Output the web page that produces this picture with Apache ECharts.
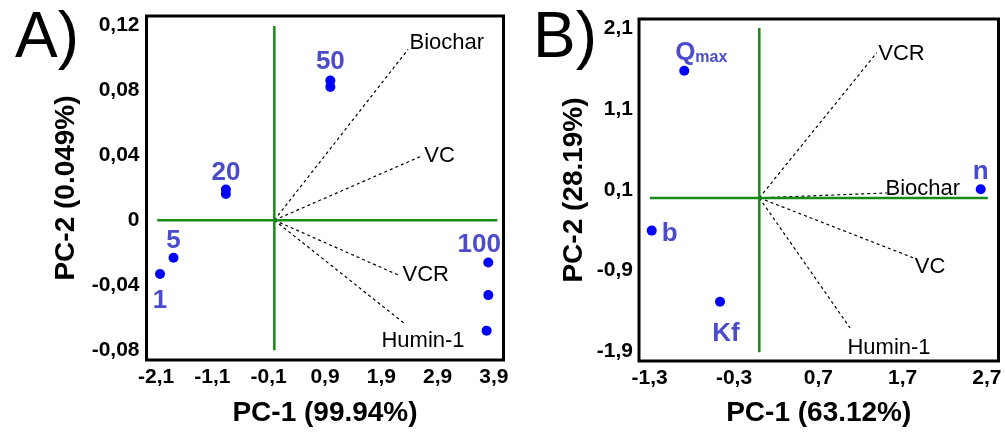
<!DOCTYPE html>
<html><head><meta charset="utf-8">
<script src="https://cdn.jsdelivr.net/npm/echarts@6/dist/echarts.min.js"></script>
<style>html,body{margin:0;padding:0;background:#fff}#c{width:1005px;height:432px}</style>
</head><body><div id="c"></div>
<script>
// ---------- Panel A data ----------
const ticksAX = [-2.1, -1.1, -0.1, 0.9, 1.9, 2.9, 3.9];
const ticksAY = [-0.08, -0.04, 0, 0.04, 0.08, 0.12];
const rangeAX = [-2.27, 4.07];
const rangeAY = [-0.0862, 0.1259];
const scoreAGroup = ['1', '5', '20', '20', '50', '50', '100', '100', '100'];
const scoreAX = [-2.03, -1.79, -0.86, -0.86, 0.995, 0.995, 3.80, 3.80, 3.77];
const scoreAY = [-0.0332, -0.0232, 0.0189, 0.0162, 0.0861, 0.0822, -0.0261, -0.0462, -0.0681];
const loadNamesA = ['Biochar', 'VC', 'VCR', 'Humin-1'];
const loadAX = [2.375, 2.618, 2.233, 2.321];
const loadAY = [0.1053, 0.0396, -0.0343, -0.064];
const crossAVert = [-0.0802, 0.1198];
const crossAHoriz = [-2.08, 3.96];

// ---------- Panel B data ----------
const ticksBX = [-1.3, -0.3, 0.7, 1.7, 2.7];
const ticksBY = [-1.9, -0.9, 0.1, 1.1, 2.1];
const rangeBX = [-1.427, 2.837];
const rangeBY = [-2.018, 2.213];
const scoreBNames = ['Qmax', 'n', 'b', 'Kf'];
const scoreBX = [-0.89, 2.626, -1.276, -0.466];
const scoreBY = [1.572, 0.106, -0.405, -1.285];
const loadNamesB = ['VCR', 'Biochar', 'VC', 'Humin-1'];
const loadBX = [1.393, 1.515, 1.827, 1.076];
const loadBY = [1.796, 0.061, -0.742, -1.609];
const crossBVert = [-1.909, 2.103];
const crossBHoriz = [-1.297, 2.711];

// ---------- styles ----------
const FONT = '"Liberation Sans", Arial, sans-serif';
const GREEN = '#178a17';
const DOT = '#0000ff';
const LBL = '#4b4bcb';

const fmt = v => (Math.abs(v) < 1e-9 ? '0' : String(v).replace('.', ','));

const groupLabelA = {
  '1':   {position: 'bottom', offset: [0, 4]},
  '5':   {position: 'top', offset: [0, 6]},
  '20':  {position: 'top', offset: [0, 6]},
  '50':  {position: 'top', offset: [0, 4]},
  '100': {position: 'top', offset: [-9, 5]}
};
const loadLabelA = {
  'Biochar': {position: 'right', distance: 1, offset: [0, -6]},
  'VC':      {position: 'right', distance: 2, offset: [0, 0]},
  'VCR':     {position: 'right', distance: 2, offset: [0, -1]},
  'Humin-1': {position: 'bottom', distance: 2, offset: [18, 3]}
};
const scoreLabelB = {
  'Qmax': {position: 'top', offset: [17, 5]},
  'n':    {position: 'top', offset: [0, 6]},
  'b':    {position: 'right', offset: [0, 3]},
  'Kf':   {position: 'bottom', offset: [6, 9]}
};
const loadLabelB = {
  'VCR':     {position: 'right', distance: 1, offset: [0, 1]},
  'Biochar': {position: 'right', distance: 0, offset: [-2, -4]},
  'VC':      {position: 'right', distance: 1, offset: [0, 9]},
  'Humin-1': {position: 'bottom', distance: 2, offset: [39, 6]}
};

function axisCommon(ticks, range) {
  return {
    type: 'value', min: range[0], max: range[1],
    axisLine: {show: false}, axisTick: {show: false}, splitLine: {show: false},
    axisLabel: {
      customValues: ticks, formatter: fmt, color: '#000',
      fontFamily: FONT, fontWeight: 'bold', fontSize: 21, margin: 7
    },
    nameLocation: 'middle',
    nameTextStyle: {fontFamily: FONT, fontWeight: 'bold', fontSize: 28, color: '#000'}
  };
}

function crossSeries(idx, vert, horiz) {
  const base = {
    type: 'line', xAxisIndex: idx, yAxisIndex: idx, symbol: 'none', z: 4,
    lineStyle: {color: GREEN, width: 2.5}, silent: true, animation: false
  };
  return [
    Object.assign({}, base, {data: [[0, vert[0]], [0, vert[1]]]}),
    Object.assign({}, base, {data: [[horiz[0], 0], [horiz[1], 0]]})
  ];
}

function loadingSeries(idx, names, xs, ys, labelMap) {
  const lines = names.map((nm, i) => ({
    type: 'line', xAxisIndex: idx, yAxisIndex: idx, z: 3,
    symbol: 'none', animation: false, silent: true,
    lineStyle: {color: '#000', width: 1.2, type: [3, 3]},
    data: [[0, 0], [xs[i], ys[i]]]
  }));
  const labels = {
    type: 'scatter', xAxisIndex: idx, yAxisIndex: idx, z: 3,
    symbol: 'circle', symbolSize: 1, silent: true, animation: false,
    itemStyle: {color: 'rgba(0,0,0,0)'},
    data: names.map((nm, i) => ({
      value: [xs[i], ys[i]],
      label: Object.assign({show: true, formatter: nm, color: '#000', opacity: 1,
        fontFamily: FONT, fontSize: 22}, labelMap[nm])
    }))
  };
  return lines.concat([labels]);
}

// Panel A scores: label on the top-most point of each group (bottom for '1')
const firstIdxA = {};
scoreAGroup.forEach((g, i) => { if (!(g in firstIdxA)) firstIdxA[g] = i; });
const scoreDataA = scoreAX.map((x, i) => {
  const g = scoreAGroup[i];
  const item = {value: [x, scoreAY[i]]};
  if (firstIdxA[g] === i) {
    item.label = Object.assign({show: true, formatter: g, color: LBL,
      fontFamily: FONT, fontWeight: 'bold', fontSize: 26}, groupLabelA[g]);
  }
  return item;
});

const scoreDataB = scoreBX.map((x, i) => {
  const nm = scoreBNames[i];
  const lab = Object.assign({show: true, color: LBL, fontFamily: FONT,
    fontWeight: 'bold', fontSize: 26}, scoreLabelB[nm]);
  if (nm === 'Qmax') {
    lab.formatter = '{q|Q}{m|max}';
    lab.rich = {
      q: {fontFamily: FONT, fontWeight: 'bold', fontSize: 26, color: LBL},
      m: {fontFamily: FONT, fontWeight: 'bold', fontSize: 16, color: LBL, verticalAlign: 'bottom', padding: [8, 0, 0, 0]}
    };
  } else {
    lab.formatter = nm;
  }
  return {value: [x, scoreBY[i]], label: lab};
});

const xA = axisCommon(ticksAX, rangeAX);
Object.assign(xA, {gridIndex: 0, name: 'PC-1 (99.94%)', nameGap: 39});
const yA = axisCommon(ticksAY, rangeAY);
Object.assign(yA, {gridIndex: 0, name: 'PC-2 (0.049%)', nameGap: 66});
const xB = axisCommon(ticksBX, rangeBX);
Object.assign(xB, {gridIndex: 1, name: 'PC-1 (63.12%)', nameGap: 38});
const yB = axisCommon(ticksBY, rangeBY);
Object.assign(yB, {gridIndex: 1, name: 'PC-2 (28.19%)', nameGap: 51});
yB.axisLabel.margin = 6;

const option = {
  backgroundColor: '#fff',
  animation: false,
  title: [
    {text: 'A)', left: 10, top: 2, textStyle: {fontFamily: FONT, fontSize: 64, fontWeight: 'normal', color: '#000'}},
    {text: 'B)', left: 528, top: 2, textStyle: {fontFamily: FONT, fontSize: 64, fontWeight: 'normal', color: '#000'}}
  ],
  grid: [
    {left: 146.5, top: 16, width: 357, height: 350, show: true, borderColor: '#000', borderWidth: 3, backgroundColor: 'transparent'},
    {left: 639, top: 19, width: 359.5, height: 348, show: true, borderColor: '#000', borderWidth: 3, backgroundColor: 'transparent'}
  ],
  xAxis: [xA, xB],
  yAxis: [yA, yB],
  series: [].concat(
    loadingSeries(0, loadNamesA, loadAX, loadAY, loadLabelA),
    crossSeries(0, crossAVert, crossAHoriz),
    [{type: 'scatter', xAxisIndex: 0, yAxisIndex: 0, symbolSize: 10, z: 5,
      itemStyle: {color: DOT, opacity: 1}, data: scoreDataA}],
    loadingSeries(1, loadNamesB, loadBX, loadBY, loadLabelB),
    crossSeries(1, crossBVert, crossBHoriz),
    [{type: 'scatter', xAxisIndex: 1, yAxisIndex: 1, symbolSize: 10, z: 5,
      itemStyle: {color: DOT, opacity: 1}, data: scoreDataB}]
  )
};

const chart = echarts.init(document.getElementById('c'), null, {renderer: 'canvas'});
chart.setOption(option);
</script>
</body></html>
